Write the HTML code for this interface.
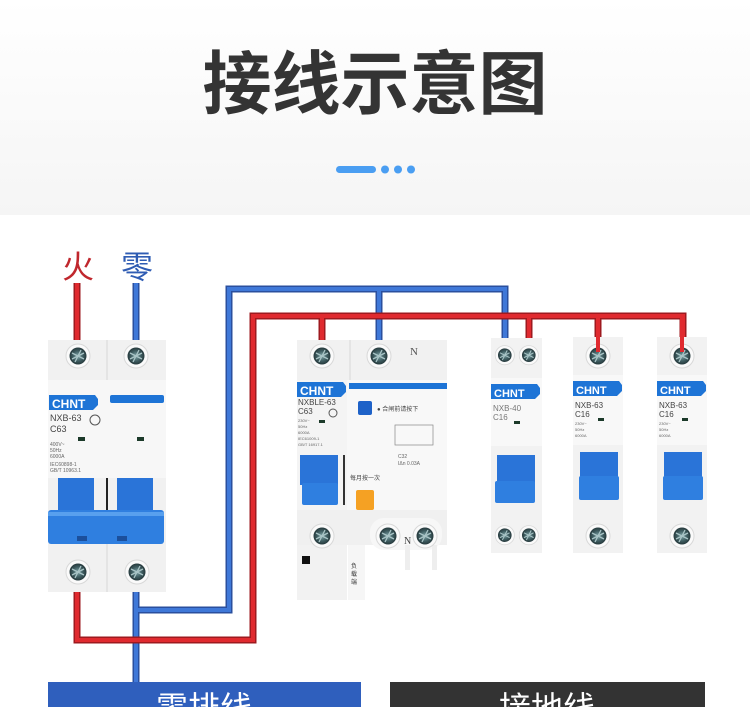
<!DOCTYPE html>
<html><head><meta charset="utf-8"><style>
html,body{margin:0;padding:0;width:750px;height:707px;overflow:hidden;background:#fff}
svg{display:block}
</style></head><body>
<svg width="750" height="707" viewBox="0 0 750 707" xmlns="http://www.w3.org/2000/svg" font-family="Liberation Sans, Noto Sans CJK SC, sans-serif">
<defs>
<linearGradient id="bg" x1="0" y1="0" x2="0" y2="1"><stop offset="0" stop-color="#ffffff"/><stop offset="1" stop-color="#f5f5f5"/></linearGradient>
<radialGradient id="scr" cx="0.5" cy="0.5" r="0.5"><stop offset="0" stop-color="#7fa5a8"/><stop offset="0.6" stop-color="#3e5c60"/><stop offset="1" stop-color="#26393c"/></radialGradient>
<g id="screw"><circle r="12" fill="#fafafa" stroke="#d8d8d8"/><circle r="8.5" fill="url(#scr)"/><path d="M-6,-3 L6,3 M-3,6 L3,-6 M-6,3 L6,-3" stroke="#a9c4c6" stroke-width="1.3"/></g>
<g id="badge"><path d="M0,0 H46 L49,4 V10 L44,15 H0 Z" fill="#1e74d6"/></g>
</defs>
<rect width="750" height="215" fill="url(#bg)"/>
<text x="375" y="108" text-anchor="middle" font-size="69" font-weight="bold" fill="#343434" font-family="Noto Sans CJK SC, sans-serif">接线示意图</text>
<rect x="336" y="166" width="40" height="7" rx="3.5" fill="#4a9ef2"/>
<circle cx="385" cy="169.5" r="4" fill="#4a9ef2"/><circle cx="398" cy="169.5" r="4" fill="#4a9ef2"/><circle cx="411" cy="169.5" r="4" fill="#4a9ef2"/>

<text x="62" y="278" font-size="32" fill="#c0272d" font-family="Noto Sans CJK SC, sans-serif">火</text>
<text x="121" y="278" font-size="32" fill="#2f5cb3" font-family="Noto Sans CJK SC, sans-serif">零</text>

<g fill="none" stroke-linejoin="miter">
<g stroke="#2a4f9e" stroke-width="7">
<path d="M136,283 V355"/><path d="M136,592 V685"/><path d="M136,610 H229 V289 H505 V355"/><path d="M379,289 V355"/>
</g>
<g stroke="#3f78d8" stroke-width="4">
<path d="M136,283 V355"/><path d="M136,592 V685"/><path d="M136,610 H229 V289 H505 V355"/><path d="M379,289 V355"/>
</g>
<g stroke="#9e1a1f" stroke-width="7">
<path d="M77,283 V355"/><path d="M77,592 V640 H253 V316 H683 V355"/><path d="M322,316 V355"/><path d="M529,316 V355"/><path d="M598,316 V355"/>
</g>
<g stroke="#e02a2f" stroke-width="4">
<path d="M77,283 V355"/><path d="M77,592 V640 H253 V316 H683 V355"/><path d="M322,316 V355"/><path d="M529,316 V355"/><path d="M598,316 V355"/>
</g>
</g>

<rect x="48" y="340" width="118" height="252" fill="#f1f1f1"/>
<line x1="107" y1="340" x2="107" y2="592" stroke="#d6d6d6"/>
<rect x="48" y="380" width="118" height="98" fill="#f7f7f7"/>
<use href="#badge" x="49" y="395"/>
<text x="52" y="408" font-size="12" font-weight="bold" fill="#fff">CHNT</text>
<rect x="110" y="395" width="54" height="8" rx="2" fill="#1e74d6"/>
<text x="50" y="421" font-size="9" fill="#444">NXB-63</text>
<text x="50" y="432" font-size="9" fill="#444">C63</text>
<circle cx="95" cy="420" r="5" fill="none" stroke="#555"/>
<rect x="78" y="437" width="7" height="4" fill="#1c3a2a"/><rect x="137" y="437" width="7" height="4" fill="#1c3a2a"/>
<text x="50" y="446" font-size="5" fill="#666">400V~</text><text x="50" y="452" font-size="5" fill="#666">50Hz</text><text x="50" y="458" font-size="5" fill="#666">6000A</text>
<text x="50" y="466" font-size="5" fill="#666">IEC60898-1</text><text x="50" y="472" font-size="5" fill="#666">GB/T 10963.1</text>
<rect x="58" y="478" width="36" height="40" fill="#2a74d8"/><rect x="117" y="478" width="36" height="40" fill="#2a74d8"/>
<line x1="107" y1="478" x2="107" y2="510" stroke="#222" stroke-width="2"/>
<rect x="48" y="510" width="116" height="34" rx="3" fill="#2f7fe0"/>
<rect x="48" y="512" width="116" height="4" fill="#58a0ee"/>
<rect x="77" y="536" width="10" height="5" fill="#1b4f9c"/><rect x="117" y="536" width="10" height="5" fill="#1b4f9c"/>
<use href="#screw" x="78" y="356"/><use href="#screw" x="136" y="356"/>
<use href="#screw" x="78" y="572"/><use href="#screw" x="137" y="572"/>

<rect x="297" y="340" width="150" height="40" fill="#f1f1f1"/>
<line x1="350" y1="340" x2="350" y2="380" stroke="#d6d6d6"/>
<text x="410" y="355" font-size="11" fill="#555" font-family="Liberation Serif, serif">N</text>
<rect x="297" y="380" width="150" height="130" fill="#f8f8f8"/>
<rect x="297" y="380" width="50" height="130" fill="#f4f4f4"/>
<use href="#badge" x="297" y="382"/>
<text x="300" y="395" font-size="12" font-weight="bold" fill="#fff">CHNT</text>
<rect x="349" y="383" width="98" height="6" fill="#1e74d6"/>
<text x="298" y="405" font-size="8" fill="#444">NXBLE-63</text><text x="298" y="414" font-size="8" fill="#444">C63</text>
<circle cx="333" cy="413" r="4" fill="none" stroke="#555"/>
<rect x="319" y="420" width="6" height="3" fill="#1c3a2a"/>
<text x="298" y="422" font-size="4" fill="#666">230V~</text><text x="298" y="428" font-size="4" fill="#666">50Hz</text><text x="298" y="434" font-size="4" fill="#666">6000A</text><text x="298" y="440" font-size="4" fill="#666">IEC61009-1</text><text x="298" y="446" font-size="4" fill="#666">GB/T 16917.1</text>
<rect x="358" y="401" width="14" height="14" rx="2" fill="#1e62c8"/>
<text x="377" y="411" font-size="6" fill="#444">● 合闸前请按下</text>
<rect x="395" y="425" width="38" height="20" fill="none" stroke="#888" stroke-width="0.7"/>
<text x="398" y="458" font-size="5" fill="#666">C32</text><text x="398" y="465" font-size="5" fill="#666">IΔn 0.03A</text>
<text x="350" y="480" font-size="6" fill="#444">每月按一次</text>
<rect x="356" y="490" width="18" height="20" rx="2" fill="#f5a123"/>
<rect x="300" y="455" width="38" height="30" fill="#2a74d8"/>
<rect x="302" y="483" width="36" height="22" rx="2" fill="#2f7fe0"/>
<line x1="344" y1="455" x2="344" y2="505" stroke="#333" stroke-width="2"/>
<rect x="297" y="510" width="150" height="35" fill="#f0f0f0"/>
<rect x="370" y="518" width="72" height="32" rx="14" fill="#f7f7f7"/>
<text x="404" y="544" font-size="10" fill="#444" font-family="Liberation Serif, serif">N</text>
<rect x="297" y="545" width="50" height="55" fill="#f2f2f2"/>
<rect x="348" y="545" width="17" height="55" fill="#f6f6f6"/>
<rect x="302" y="556" width="8" height="8" fill="#111"/>
<text x="351" y="568" font-size="6" fill="#333">负</text><text x="351" y="576" font-size="6" fill="#333">载</text><text x="351" y="584" font-size="6" fill="#333">端</text>
<rect x="405" y="545" width="5" height="25" fill="#eee"/><rect x="432" y="545" width="5" height="25" fill="#eee"/>
<use href="#screw" x="322" y="356"/><use href="#screw" x="379" y="356"/>
<use href="#screw" x="322" y="536"/><use href="#screw" x="388" y="536"/><use href="#screw" x="425" y="536"/>

<rect x="491" y="338" width="51" height="215" fill="#f2f2f2"/>
<rect x="491" y="378" width="51" height="68" fill="#f8f8f8"/>
<use href="#badge" x="491" y="384"/>
<text x="494" y="397" font-size="11" font-weight="bold" fill="#fff">CHNT</text>
<text x="493" y="411" font-size="8" fill="#777">NXB-40</text><text x="493" y="420" font-size="8" fill="#777">C16</text>
<rect x="514" y="421" width="6" height="3" fill="#1c3a2a"/>
<rect x="497" y="455" width="38" height="28" fill="#2a74d8"/><rect x="495" y="481" width="40" height="22" rx="2" fill="#2f7fe0"/>
<g transform="scale(0.8)"><use href="#screw" x="631" y="444"/><use href="#screw" x="661" y="444"/><use href="#screw" x="631" y="669"/><use href="#screw" x="661" y="669"/></g>

<g>
<rect x="573" y="337" width="50" height="216" fill="#f2f2f2"/>
<rect x="573" y="375" width="50" height="70" fill="#f8f8f8"/>
<use href="#badge" x="573" y="381"/>
<text x="576" y="394" font-size="11" font-weight="bold" fill="#fff">CHNT</text>
<text x="575" y="408" font-size="8" fill="#444">NXB-63</text><text x="575" y="417" font-size="8" fill="#444">C16</text>
<rect x="598" y="418" width="6" height="3" fill="#1c3a2a"/>
<text x="575" y="425" font-size="4" fill="#666">230V~</text><text x="575" y="431" font-size="4" fill="#666">50Hz</text><text x="575" y="437" font-size="4" fill="#666">6000A</text>
<rect x="580" y="452" width="38" height="26" fill="#2a74d8"/><rect x="579" y="476" width="40" height="24" rx="2" fill="#2f7fe0"/>
<use href="#screw" x="598" y="356"/><use href="#screw" x="598" y="536"/>
</g>
<g transform="translate(84,0)">
<rect x="573" y="337" width="50" height="216" fill="#f2f2f2"/>
<rect x="573" y="375" width="50" height="70" fill="#f8f8f8"/>
<use href="#badge" x="573" y="381"/>
<text x="576" y="394" font-size="11" font-weight="bold" fill="#fff">CHNT</text>
<text x="575" y="408" font-size="8" fill="#444">NXB-63</text><text x="575" y="417" font-size="8" fill="#444">C16</text>
<rect x="598" y="418" width="6" height="3" fill="#1c3a2a"/>
<text x="575" y="425" font-size="4" fill="#666">230V~</text><text x="575" y="431" font-size="4" fill="#666">50Hz</text><text x="575" y="437" font-size="4" fill="#666">6000A</text>
<rect x="580" y="452" width="38" height="26" fill="#2a74d8"/><rect x="579" y="476" width="40" height="24" rx="2" fill="#2f7fe0"/>
<use href="#screw" x="598" y="356"/><use href="#screw" x="598" y="536"/>
</g>
<g stroke-width="4"><path d="M598,316 V352 M682,316 V352" stroke="#e02a2f"/></g>

<rect x="48" y="682" width="313" height="25" fill="#2f5fbd"/>
<rect x="390" y="682" width="315" height="25" fill="#333"/>
<text x="204" y="719" text-anchor="middle" font-size="32" fill="#fff" font-family="Noto Sans CJK SC, sans-serif">零排线</text>
<text x="547" y="719" text-anchor="middle" font-size="32" fill="#fff" font-family="Noto Sans CJK SC, sans-serif">接地线</text>
</svg>
</body></html>
